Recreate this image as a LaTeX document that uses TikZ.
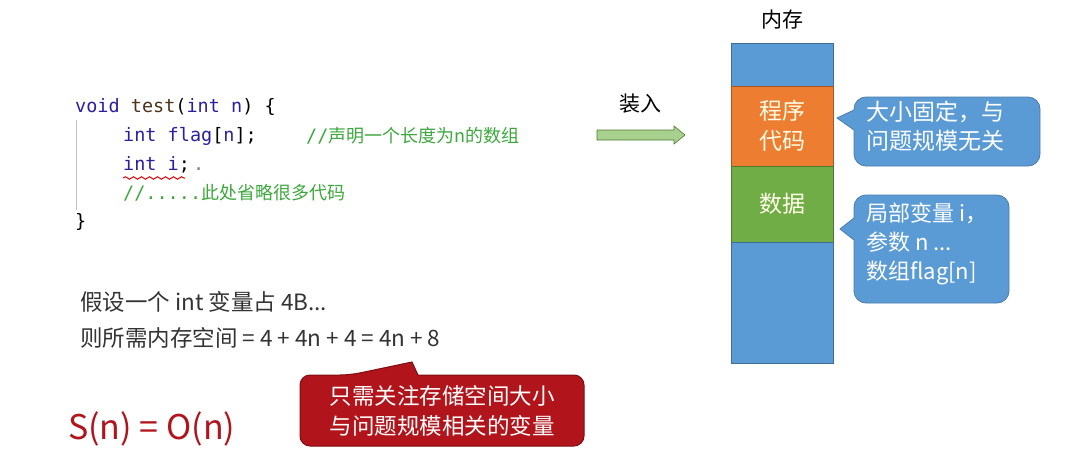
\documentclass[tikz,border=0pt]{standalone}
\usepackage{fontspec}
\setmainfont{Noto Sans CJK SC}
\newfontfamily\codefont{DejaVu Sans Mono}
\newfontfamily\cjk{Noto Sans CJK SC}
\usetikzlibrary{decorations.pathmorphing}
\definecolor{memblue}{HTML}{5B9BD5}
\definecolor{memorange}{HTML}{ED7D31}
\definecolor{memgreen}{HTML}{70AD47}
\definecolor{kw}{HTML}{2A1FA0}
\definecolor{cm}{HTML}{3CA83C}
\definecolor{darkred}{HTML}{B2141B}
\definecolor{arrowgreen}{HTML}{A9D18E}
\tikzset{
  code/.style={anchor=west,inner sep=0pt,font=\codefont\fontsize{18.5}{18.5}\selectfont},
  txt/.style={anchor=west,inner sep=0pt,font=\fontsize{22.5}{22.5}\selectfont,text=black!80},
  callout/.style={fill=memblue,draw=memblue!80!black,line width=0.8pt,rounded corners=12pt},
  ctext/.style={text=white,align=left,font=\fontsize{23}{31}\selectfont,inner sep=0pt}
}
\begin{document}
\begin{tikzpicture}[x=1pt,y=-1pt]
\useasboundingbox (0,0) rectangle (1088,464);
% code
\node[code] (l1) at (75,107) {\textcolor{kw}{void} \textcolor{black!60!brown}{test}(\textcolor{kw}{int n}) \{};
\node[code] (l2) at (123,136) {\textcolor{kw}{int flag}[\textcolor{kw}{n}];};
\node[code,text=cm] (c2) at (306,136) {//{\cjk\fontsize{18}{18}\selectfont 声明一个长度为n的数组}};
\node[code,text=kw] (l3) at (123,165) {int i\textcolor{black};\,\textcolor{black!50}{.}};
\draw[red!85!black,line width=1pt,decoration={snake,amplitude=1.2pt,segment length=8pt},decorate] (123,178) -- (185,178);
\node[code,text=cm] (l4) at (123,193) {//.....{\cjk\fontsize{18}{18}\selectfont 此处省略很多代码}};
\node[code] (l5) at (75,222) {\}};
\draw[black!25,line width=0.8pt] (76,120) -- (76,210);
% text
\node[txt] (t1) at (80,302) {假设一个 int 变量占 4B...};
\node[txt] (t2) at (80,338) {则所需内存空间 = 4 + 4n + 4 = 4n + 8};
\node[anchor=west,inner sep=0pt,text=darkred,font=\fontsize{34}{34}\selectfont] (s) at (68,429) {S(n) = O(n)};
% red callout
\draw[fill=darkred,draw=darkred!70!black,line width=1pt,rounded corners=10pt]
  (300,375) -- (350,375) [sharp corners] -- (412,362) -- (418,375) [rounded corners=10pt] -- (584,375) -- (584,446) -- (300,446) -- cycle;
\node[ctext,font=\fontsize{22.5}{30}\selectfont] (rt) at (442,411) {只需关注存储空间大小\\与问题规模相关的变量};
% arrow
\node[inner sep=0pt,font=\fontsize{21}{21}\selectfont] (load) at (640,104) {装入};
\draw[fill=arrowgreen,draw=memgreen!70!black,line width=0.6pt] (597,130) -- (674,130) -- (674,126) -- (685,135) -- (674,144) -- (674,140) -- (597,140) -- cycle;
% memory
\node[inner sep=0pt,font=\fontsize{21}{21}\selectfont] (mem) at (782,20) {内存};
\draw[fill=memblue,draw=memblue!70!black] (731,43) rectangle (833,86);
\draw[fill=memorange,draw=memorange!70!black] (731,86) rectangle (833,166);
\draw[fill=memgreen,draw=memgreen!70!black] (731,166) rectangle (833,242);
\draw[fill=memblue,draw=memblue!70!black] (731,242) rectangle (833,363);
\node[ctext,text=white!90!yellow,align=center,font=\fontsize{23}{30}\selectfont] (code) at (782,126) {程序\\代码};
\node[ctext,text=white!90!yellow] (data) at (782,204) {数据};
% callouts
\draw[callout] (854,97) -- (1040,97) -- (1040,166) -- (854,166) [sharp corners] -- (854,130) -- (837,118) -- (854,110) [rounded corners=12pt] -- cycle;
\node[ctext,anchor=north west,font=\fontsize{23}{29}\selectfont] (c1) at (866,101) {大小固定，与\\问题规模无关};
\draw[callout] (854,195) -- (1009,195) -- (1009,303) -- (854,303) [sharp corners] -- (854,240) -- (840,229) -- (854,218) [rounded corners=12pt] -- cycle;
\node[ctext,anchor=north west,font=\fontsize{22}{29}\selectfont] (c2b) at (866,203) {局部变量 i，\\参数 n ...\\数组flag[n]};
\end{tikzpicture}
\end{document}
